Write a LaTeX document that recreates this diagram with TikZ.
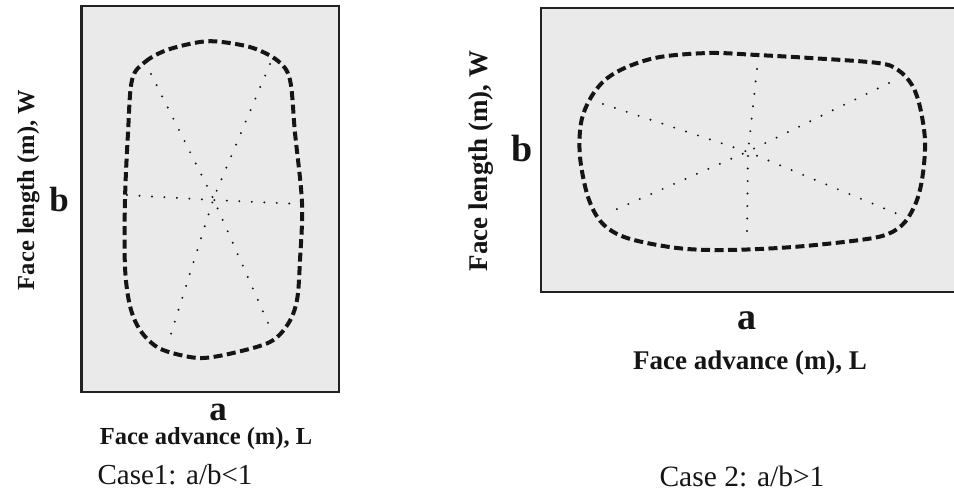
\documentclass[tikz,border=0pt]{standalone}
\usepackage{fontspec}
\setmainfont{Liberation Serif}
\definecolor{panelfill}{HTML}{EAEAEA}
\definecolor{frame}{HTML}{222222}
\definecolor{ink}{HTML}{151515}
\begin{document}
\begin{tikzpicture}[x=1bp,y=-1bp,
  panel/.style={fill=panelfill,draw=frame,line width=2.2bp},
  contour/.style={draw=ink,line width=4bp,dash pattern=on 9bp off 4.5bp},
  spoke/.style={draw=ink,line width=2.2bp,line cap=round,dash pattern=on 0bp off 12.5bp},
  lbl/.style={inner sep=0pt,anchor=base,text=ink}]
\useasboundingbox (0,0) rectangle (954,499);
% ---------- left panel ----------
\draw[panel] (81.5,6) rectangle (339,392);
\draw[contour] plot[smooth cycle,tension=0.55] coordinates {
 (132,80) (145,62) (167,50) (200,42) (222,42) (253,48) (278,61) (290,80)
 (295,133) (302,203) (300,260) (297,300) (288,324) (270,342) (233,353)
 (203,358) (180,355) (157,347) (140,330) (130,306) (125,267) (125,200) (128,133)};
\draw[spoke] (151,74) -- (213,198) -- (272,332);
\draw[spoke] (270,64) -- (214,197) -- (170,337);
\draw[spoke] (127,195) -- (213,200) -- (300,204);
\node[lbl,rotate=90,font=\bfseries\fontsize{24.5bp}{28bp}\selectfont] (wl) at (34,190) {Face length (m), W};
\node[lbl,font=\bfseries\fontsize{35bp}{40bp}\selectfont] (bl) at (59,212) {b};
\node[lbl,font=\bfseries\fontsize{35bp}{40bp}\selectfont] (al) at (218,420) {a};
\node[lbl,font=\bfseries\fontsize{24.5bp}{28bp}\selectfont] (ll) at (206,444) {Face advance (m), L};
\node[lbl,font=\fontsize{29bp}{33bp}\selectfont] (cl) at (175,484) {Case1: a/b<1};
% ---------- right panel ----------
\fill[panelfill] (540.7,8) rectangle (954,292);
\draw[frame,line width=2.2bp] (954,8) -- (540.7,8) -- (540.7,292) -- (954,292);
\draw[contour] plot[smooth cycle,tension=0.55] coordinates {
 (660,57) (710,53) (757,55) (810,58) (878,63) (898,70) (912,85) (920,107)
 (925,140) (923,173) (917,200) (905,222) (888,234) (860,240) (793,247)
 (727,250) (677,248) (627,238) (602,223) (588,197) (580,157) (581,123)
 (590,99) (605,80) (627,67)};
\draw[spoke] (603,104) -- (748,152) -- (900,215);
\draw[spoke] (889,83) -- (749,151) -- (608,213);
\draw[spoke] (757,69) -- (748,152) -- (747,233);
\node[lbl,rotate=90,font=\bfseries\fontsize{27bp}{31bp}\selectfont] (wr) at (487,161) {Face length (m), W};
\node[lbl,font=\bfseries\fontsize{38bp}{43bp}\selectfont] (br) at (522,162) {b};
\node[lbl,font=\bfseries\fontsize{38bp}{43bp}\selectfont] (ar) at (747,330) {a};
\node[lbl,font=\bfseries\fontsize{27bp}{31bp}\selectfont] (lr) at (750,370) {Face advance (m), L};
\node[lbl,font=\fontsize{29.5bp}{34bp}\selectfont] (cr) at (742,486) {Case 2: a/b>1};
\end{tikzpicture}
\end{document}
